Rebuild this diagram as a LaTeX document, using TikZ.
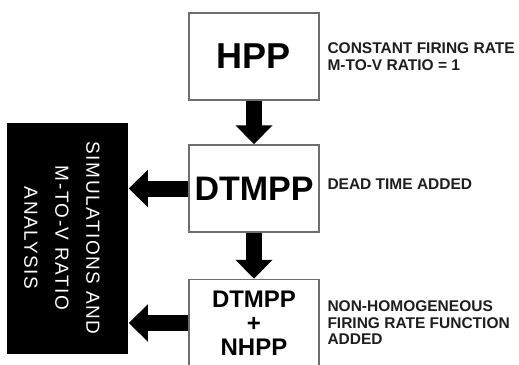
\documentclass[tikz,border=0pt]{standalone}
\usepackage{fontspec}
\setmainfont{Liberation Sans}
\newfontfamily\spacedfont[LetterSpace=8]{Liberation Sans}
\usetikzlibrary{arrows.meta, positioning}
\definecolor{cgrey}{HTML}{6E6E6E}
\definecolor{cink}{HTML}{1E1E1E}
\tikzset{
  every picture/.style={line width=1.5pt},
  box/.style={draw=cgrey, fill=white, minimum width=130pt, minimum height=87pt, inner sep=0pt, align=center},
  note/.style={align=left, inner sep=0pt, text=cink, font=\bfseries\fontsize{15.5}{16.5}\selectfont},
  bigarrow/.style={-{Triangle[width=36pt, length=19pt]}, line width=16pt, draw=black},
}

\begin{document}
\begin{tikzpicture}[x=1pt, y=-1pt]
  \useasboundingbox (0,0) rectangle (519,364);
  \clip (0,0) rectangle (519,364);
  % process boxes, top to bottom
  \node[box, font=\bfseries\fontsize{36}{40}\selectfont] (hpp) at (254,56.5) {HPP};
  \node[box, font=\bfseries\fontsize{34}{40}\selectfont] (dtmpp) at (254,188.5) {DTMPP};
  \node[box, font=\bfseries\fontsize{24}{24}\selectfont] (nhpp) at (254,323) {DTMPP\\+\\NHPP};
  % notes on the right
  \node[note, right=7pt of hpp] (hppnote) {CONSTANT FIRING RATE\\M-TO-V RATIO = 1};
  \node[note, right=7pt of dtmpp, yshift=4pt] (dtmppnote) {DEAD TIME ADDED};
  \node[note, right=7pt of nhpp] (nhppnote) {NON-HOMOGENEOUS\\FIRING RATE FUNCTION\\ADDED};
  % black panel with rotated text
  \node[fill=black, minimum width=121pt, minimum height=231pt, inner sep=0pt] (sim) at (67.5,238.5) {};
  \node[rotate=-90, text=white, align=center, font=\spacedfont\fontsize{19}{31}\selectfont] (simtext) at (62,238) {SIMULATIONS AND\\M-TO-V RATIO\\ANALYSIS};
  % block arrows
  \draw[bigarrow] (hpp) -- (dtmpp);
  \draw[bigarrow] (dtmpp) -- (nhpp);
  \draw[bigarrow] (dtmpp.west) -- (dtmpp.west -| sim.east);
  \draw[bigarrow] (nhpp.west) -- (nhpp.west -| sim.east);
\end{tikzpicture}
\end{document}
